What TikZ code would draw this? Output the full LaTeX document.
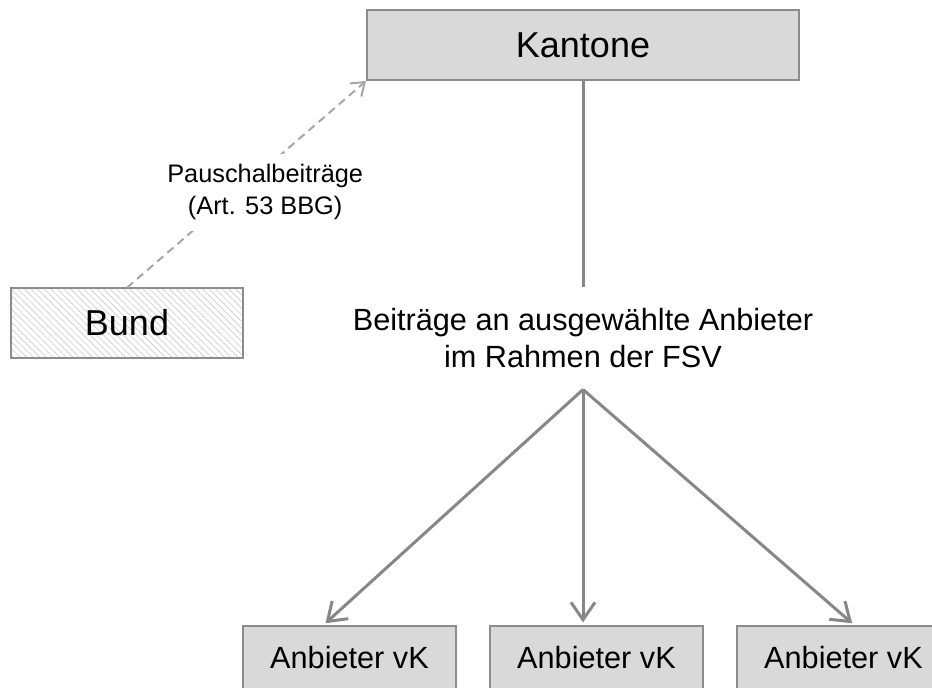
\documentclass[tikz,border=0pt]{standalone}
\usepackage{fontspec}
\setmainfont{Liberation Sans}
\usetikzlibrary{positioning,patterns.meta,arrows.meta}

\definecolor{boxgray}{HTML}{D9D9D9}
\definecolor{edgegray}{HTML}{8C8C8C}
\definecolor{linegray}{HTML}{878787}
\definecolor{dashgray}{HTML}{A6A6A6}

\tikzset{
  box/.style={draw=edgegray, line width=1.5pt, fill=boxgray, inner sep=0pt,
    font=\fontsize{27}{32}\selectfont},
  hatchbox/.style={box, fill=none, pattern={Lines[angle=-45, distance=3.5pt, line width=0.5pt]},
    pattern color=gray!40},
  anbox/.style={box, minimum width=159.75pt, minimum height=48pt,
    font=\fontsize{23}{28}\selectfont},
  flow/.style={draw=linegray, line width=2.25pt},
  flowarrow/.style={flow, -{Straight Barb[length=13pt,width=18pt]}, shorten >=2pt},
  dasharrow/.style={draw=dashgray, line width=1.5pt, dash pattern=on 6pt off 4pt,
    -{Straight Barb[length=9pt,width=13pt]}},
  lbl/.style={fill=white, align=center, inner sep=8pt, font=\fontsize{19}{24}\selectfont},
}

\begin{document}
\begin{tikzpicture}[x=0.75pt, y=-0.75pt]
  \def\xgap{24pt}
  \useasboundingbox (0,0) rectangle (932,687);
  \coordinate (top) at (583,45);

  % Kantone
  \node[box, minimum width=324pt, minimum height=52.5pt] (kantone) at (top) {Kantone};
  % Bund
  \node[hatchbox, minimum width=174pt, minimum height=52.5pt] (bund) at (127,323) {Bund};
  % Beitraege
  \node[below=154.5pt of kantone, align=center, inner sep=0pt, minimum height=76.5pt,
    font=\fontsize{23}{27.75}\selectfont] (beitrag) {Beiträge an ausgewählte Anbieter\\im Rahmen der FSV};
  % Anbieter
  \node[anbox] (a1) at (349.5,658) {Anbieter vK};
  \node[anbox, right=\xgap of a1] (a2) {Anbieter vK};
  \node[anbox, right=\xgap of a2] (a3) {Anbieter vK};

  \draw[flow] (kantone.south) -- (beitrag.north);
  \draw[flowarrow] (beitrag.south) -- ([xshift=-19.5pt]a1.north);
  \draw[flowarrow] (beitrag.south) -- (beitrag.south |- a2.north);
  \draw[flowarrow] (beitrag.south) -- ([xshift=8pt]a3.north);
  % Pauschalbeitraege
  \draw[dasharrow] (bund.north) -- node[lbl, xshift=14pt, yshift=-6pt] (pausch) {Pauschalbeiträge\\(Art. 53 BBG)} (kantone.south west);
\end{tikzpicture}
\end{document}
